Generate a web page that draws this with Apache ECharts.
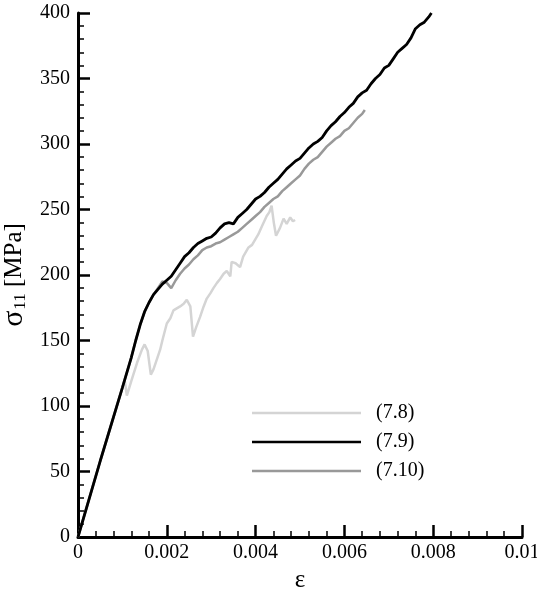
<!DOCTYPE html>
<html>
<head>
<meta charset="utf-8">
<script src="https://cdn.jsdelivr.net/npm/echarts@6/dist/echarts.min.js"></script>
<style>
html,body{margin:0;padding:0;background:#fff;}
#chart{width:537px;height:590px;}
</style>
</head>
<body>
<div id="chart"></div>
<script>
// Series names
const seriesNames = ['(7.8)', '(7.9)', '(7.10)'];

// (7.8)
const strain78 = [0, 0.0005, 0.001, 0.00105, 0.0011, 0.0012, 0.00133, 0.00144, 0.0015, 0.00157, 0.00164, 0.0017, 0.00178, 0.00185, 0.0019, 0.002, 0.00208, 0.00215, 0.0023, 0.00238, 0.00245, 0.00253, 0.00259, 0.00266, 0.00275, 0.00283, 0.0029, 0.00298, 0.00305, 0.00313, 0.0032, 0.00328, 0.00335, 0.00343, 0.00346, 0.00355, 0.00365, 0.00372, 0.00384, 0.00392, 0.00399, 0.00406, 0.00414, 0.00425, 0.00431, 0.00436, 0.00441, 0.00446, 0.00455, 0.00463, 0.0047, 0.00478, 0.00484, 0.00489];
const stress78 = [0, 58, 114, 120, 108, 119, 133, 143, 147, 142, 124, 128, 136, 143, 150, 163, 167, 173, 176, 178, 181, 176, 153, 160, 168, 176, 182, 186, 190, 194, 197, 201, 203, 199, 210, 209, 206, 214, 221, 223, 227, 231, 237, 245, 248, 253, 240, 230, 236, 243, 239, 244, 241, 242];

// (7.9)
const strain79 = [0, 0.0005, 0.001, 0.0012, 0.0013, 0.0014, 0.0015, 0.0016, 0.0017, 0.0018, 0.0019, 0.002, 0.0021, 0.0022, 0.0023, 0.0024, 0.0025, 0.0026, 0.0027, 0.0028, 0.0029, 0.003, 0.0031, 0.0032, 0.0033, 0.0034, 0.0035, 0.0036, 0.0037, 0.0038, 0.0039, 0.004, 0.0041, 0.0042, 0.0043, 0.0044, 0.0045, 0.0046, 0.0047, 0.0048, 0.0049, 0.005, 0.0051, 0.0052, 0.0053, 0.0054, 0.0055, 0.0056, 0.0057, 0.0058, 0.0059, 0.006, 0.0061, 0.0062, 0.0063, 0.0064, 0.0065, 0.0066, 0.0067, 0.0068, 0.0069, 0.007, 0.0071, 0.0072, 0.0073, 0.0074, 0.0075, 0.0076, 0.0077, 0.0078, 0.0079, 0.00796];
const stress79 = [0, 58, 114, 137, 150, 162, 172, 179, 185, 189, 193, 196, 199, 204, 209, 214, 217, 221, 224, 226, 228, 229, 232, 236, 239, 240, 239, 244, 247, 250, 254, 258, 260, 263, 267, 270, 273, 277, 281, 284, 287, 289, 293, 297, 300, 302, 305, 310, 314, 317, 321, 324, 328, 331, 336, 339, 341, 346, 350, 353, 358, 360, 365, 370, 373, 376, 381, 388, 391, 393, 397, 400];

// (7.10)
const strain710 = [0, 0.0005, 0.001, 0.0012, 0.0013, 0.0014, 0.0015, 0.0016, 0.0017, 0.0018, 0.0019, 0.002, 0.0021, 0.0022, 0.0023, 0.0024, 0.0025, 0.0026, 0.0027, 0.0028, 0.0029, 0.003, 0.0031, 0.0032, 0.0033, 0.0034, 0.0035, 0.0036, 0.0037, 0.0038, 0.0039, 0.004, 0.0041, 0.0042, 0.0043, 0.0044, 0.0045, 0.0046, 0.0047, 0.0048, 0.0049, 0.005, 0.0051, 0.0052, 0.0053, 0.0054, 0.0055, 0.0056, 0.0057, 0.0058, 0.0059, 0.006, 0.0061, 0.0062, 0.0063, 0.0064, 0.00646];
const stress710 = [0, 58, 114, 137, 150, 162, 172, 179, 185, 190, 195, 194, 190, 196, 201, 205, 208, 212, 215, 219, 221, 222, 224, 225, 227, 229, 231, 233, 236, 239, 242, 245, 248, 252, 255, 258, 260, 264, 267, 270, 273, 276, 281, 285, 288, 290, 294, 298, 301, 304, 306, 310, 312, 316, 320, 323, 326];

// Axis ticks
const xTicks = [0, 0.002, 0.004, 0.006, 0.008, 0.01];
const yTicks = [0, 50, 100, 150, 200, 250, 300, 350, 400];

const zip = (xs, ys) => xs.map((x, i) => [x, ys[i]]);
const FONT = '"Liberation Serif", "DejaVu Serif", serif';

const chart = echarts.init(document.getElementById('chart'), null, {renderer: 'canvas'});

const axisCommon = {
  axisLine: {show: true, onZero: false, lineStyle: {color: '#000', width: 3}},
  axisTick: {show: true, inside: true, length: 12, lineStyle: {color: '#000', width: 2.5}},
  minorTick: {show: true, splitNumber: 5, length: 6, lineStyle: {color: '#000', width: 1.5}},
  splitLine: {show: false},
  minorSplitLine: {show: false},
  axisLabel: {color: '#000', fontFamily: FONT, fontSize: 20}
};

chart.setOption({
  animation: false,
  backgroundColor: '#fff',
  grid: {left: 78, right: 15, top: 13, bottom: 53, containLabel: false, outerBoundsMode: 'none'},
  legend: {
    orient: 'vertical',
    left: 247,
    top: 398,
    icon: 'rect',
    itemWidth: 109,
    itemHeight: 2.5,
    itemGap: 9,
    data: seriesNames,
    textStyle: {color: '#000', fontFamily: FONT, fontSize: 20, lineHeight: 20, padding: [0, 0, 0, 10]}
  },
  xAxis: Object.assign({}, axisCommon, {
    type: 'value',
    min: xTicks[0],
    max: xTicks[xTicks.length - 1],
    interval: xTicks[1] - xTicks[0],
    name: 'ε',
    nameLocation: 'middle',
    nameGap: 31,
    nameTextStyle: {color: '#000', fontFamily: FONT, fontSize: 25},
    axisLabel: Object.assign({}, axisCommon.axisLabel, {
      margin: 6,
      formatter: v => String(parseFloat(v.toFixed(4)))
    })
  }),
  yAxis: Object.assign({}, axisCommon, {
    type: 'value',
    min: yTicks[0],
    max: yTicks[yTicks.length - 1],
    interval: yTicks[1] - yTicks[0],
    name: '{s|σ}{sub|11}{t| [MPa]}',
    nameLocation: 'middle',
    nameGap: 41,
    nameRotate: 90,
    nameTextStyle: {
      color: '#000', fontFamily: FONT, fontSize: 24,
      rich: {
        s: {fontFamily: FONT, fontSize: 30, color: '#000', lineHeight: 30},
        sub: {fontFamily: FONT, fontSize: 17, color: '#000', verticalAlign: 'bottom', lineHeight: 30, padding: [12, 0, 0, 1]},
        t: {fontFamily: FONT, fontSize: 25, color: '#000', lineHeight: 30}
      }
    },
    axisLabel: Object.assign({}, axisCommon.axisLabel, {margin: 8})
  }),
  series: [
    {name: seriesNames[0], type: 'line', data: zip(strain78, stress78), symbol: 'none', z: 1,
     lineStyle: {color: '#d4d4d4', width: 2.5}, itemStyle: {color: '#d4d4d4'}},
    {name: seriesNames[1], type: 'line', data: zip(strain79, stress79), symbol: 'none', z: 3,
     lineStyle: {color: '#000000', width: 2.8}, itemStyle: {color: '#000000'}},
    {name: seriesNames[2], type: 'line', data: zip(strain710, stress710), symbol: 'none', z: 2,
     lineStyle: {color: '#999999', width: 2.5}, itemStyle: {color: '#999999'}}
  ]
});
</script>
</body>
</html>
